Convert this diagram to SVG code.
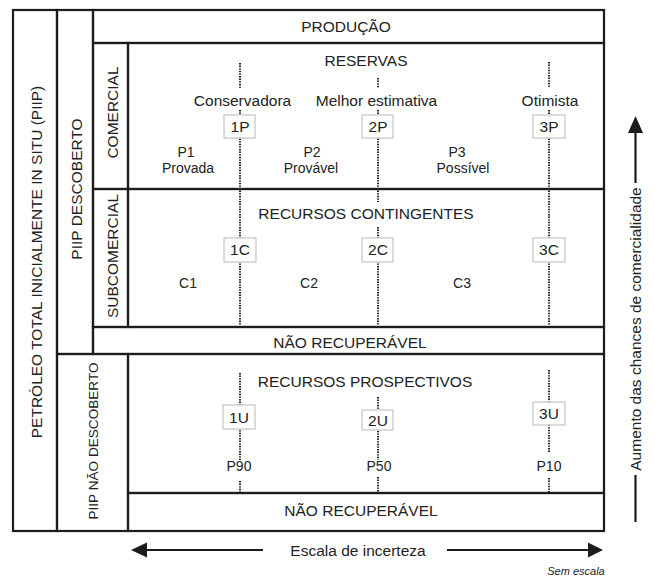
<svg xmlns="http://www.w3.org/2000/svg" width="654" height="577" viewBox="0 0 654 577">
<style>
.r{fill:none;stroke:#1c1c1c;stroke-width:2.2}
.t{font-family:"Liberation Sans",Arial,sans-serif;font-size:15.5px;fill:#222;text-anchor:middle}
.s{font-size:14px}
.v{font-size:13.6px}
.i{font-size:11px;font-style:italic}
.b{fill:#fff;stroke:#c4c4c4;stroke-width:1.2}
.d{stroke:#222;stroke-width:2;stroke-dasharray:1.4 1.2;fill:none}
.a{stroke:#1c1c1c;stroke-width:2.2;fill:none}
.h{fill:#1c1c1c}
</style>
<rect x="0" y="0" width="654" height="577" fill="#fff"/>
<g id="petroleo"><rect class="r" x="13" y="10" width="44" height="521"/><text class="t" transform="translate(41.5,262) rotate(-90)">PETRÓLEO TOTAL INICIALMENTE IN SITU (PIIP)</text></g>
<g id="piip-descoberto"><rect class="r" x="57" y="10" width="36" height="344"/><text class="t" transform="translate(81.5,189) rotate(-90)">PIIP DESCOBERTO</text></g>
<g id="producao"><rect class="r" x="93" y="10" width="511" height="33"/><text class="t" x="346" y="32">PRODUÇÃO</text></g>
<g id="comercial"><rect class="r" x="93" y="43" width="35" height="146"/><text class="t" transform="translate(118,112.5) rotate(-90)">COMERCIAL</text></g>
<g id="reservas"><rect class="r" x="128" y="43" width="476" height="146"/><text class="t" x="366" y="66">RESERVAS</text>
<text class="t" x="242.5" y="106">Conservadora</text><text class="t" x="376.5" y="106">Melhor estimativa</text><text class="t" x="550" y="106">Otimista</text>
<text class="t s" x="186" y="157">P1</text><text class="t s" x="188" y="173">Provada</text>
<text class="t s" x="312" y="157">P2</text><text class="t s" x="311" y="173">Provável</text>
<text class="t s" x="457" y="157">P3</text><text class="t s" x="463" y="173">Possível</text></g>
<g id="subcomercial"><rect class="r" x="93" y="189" width="35" height="138"/><text class="t" transform="translate(118,256) rotate(-90)">SUBCOMERCIAL</text></g>
<g id="contingentes"><rect class="r" x="128" y="189" width="476" height="138"/><text class="t" x="366" y="219">RECURSOS CONTINGENTES</text>
<text class="t s" x="188" y="288">C1</text><text class="t s" x="309" y="288">C2</text><text class="t s" x="462" y="288">C3</text></g>
<g id="nao-recuperavel-1"><rect class="r" x="93" y="327" width="511" height="27"/><text class="t" x="350" y="348">NÃO RECUPERÁVEL</text></g>
<g id="piip-nao-descoberto"><rect class="r" x="57" y="354" width="71" height="177"/><text class="t v" transform="translate(97.5,441) rotate(-90)">PIIP NÃO DESCOBERTO</text></g>
<g id="prospectivos"><rect class="r" x="128" y="354" width="476" height="139"/><text class="t" x="365" y="387">RECURSOS PROSPECTIVOS</text>
<text class="t s" x="239" y="471">P90</text><text class="t s" x="379" y="471">P50</text><text class="t s" x="549" y="471">P10</text></g>
<g id="nao-recuperavel-2"><rect class="r" x="128" y="493" width="476" height="38"/><text class="t" x="361" y="516">NÃO RECUPERÁVEL</text></g>
<g id="connectors">
<path class="d" d="M240 63V88M240 110V325M240 373V460M240 481V492"/>
<path class="d" d="M378 78V88M378 110V202M378 227V325M378 397V460M378 477V492"/>
<path class="d" d="M549 62V88M549 110V325M549 370V453M549 478V492"/>
<path class="a" d="M635.5 132V183M635.5 475V522"/>
<polygon class="h" points="635.5,116 628,133 643,133"/>
<path class="a" d="M146 550H263M447 550H589"/>
<polygon class="h" points="131,550 147,542.5 147,557.5"/>
<polygon class="h" points="603,550 588,542.5 588,557.5"/>
</g>
<g id="box-1P"><rect class="b" x="224" y="115" width="31" height="23"/><text class="t" x="240" y="132">1P</text></g>
<g id="box-2P"><rect class="b" x="362" y="115" width="31" height="23"/><text class="t" x="378" y="132">2P</text></g>
<g id="box-3P"><rect class="b" x="533" y="115" width="32" height="23"/><text class="t" x="549" y="132">3P</text></g>
<g id="box-1C"><rect class="b" x="224" y="238" width="32" height="24"/><text class="t" x="240" y="255">1C</text></g>
<g id="box-2C"><rect class="b" x="362" y="238" width="31" height="24"/><text class="t" x="378" y="255">2C</text></g>
<g id="box-3C"><rect class="b" x="533" y="238" width="32" height="24"/><text class="t" x="549" y="255">3C</text></g>
<g id="box-1U"><rect class="b" x="223" y="405" width="32" height="24"/><text class="t" x="239" y="423">1U</text></g>
<g id="box-2U"><rect class="b" x="362" y="410" width="31" height="20"/><text class="t" x="378" y="426">2U</text></g>
<g id="box-3U"><rect class="b" x="533" y="402" width="32" height="23"/><text class="t" x="549" y="419">3U</text></g>
<g id="eixo-comercialidade"><text class="t" transform="translate(641,329) rotate(-90)">Aumento das chances de comercialidade</text></g>
<g id="eixo-incerteza"><text class="t" x="358" y="556">Escala de incerteza</text><text class="t i" x="576" y="575">Sem escala</text></g>
</svg>
